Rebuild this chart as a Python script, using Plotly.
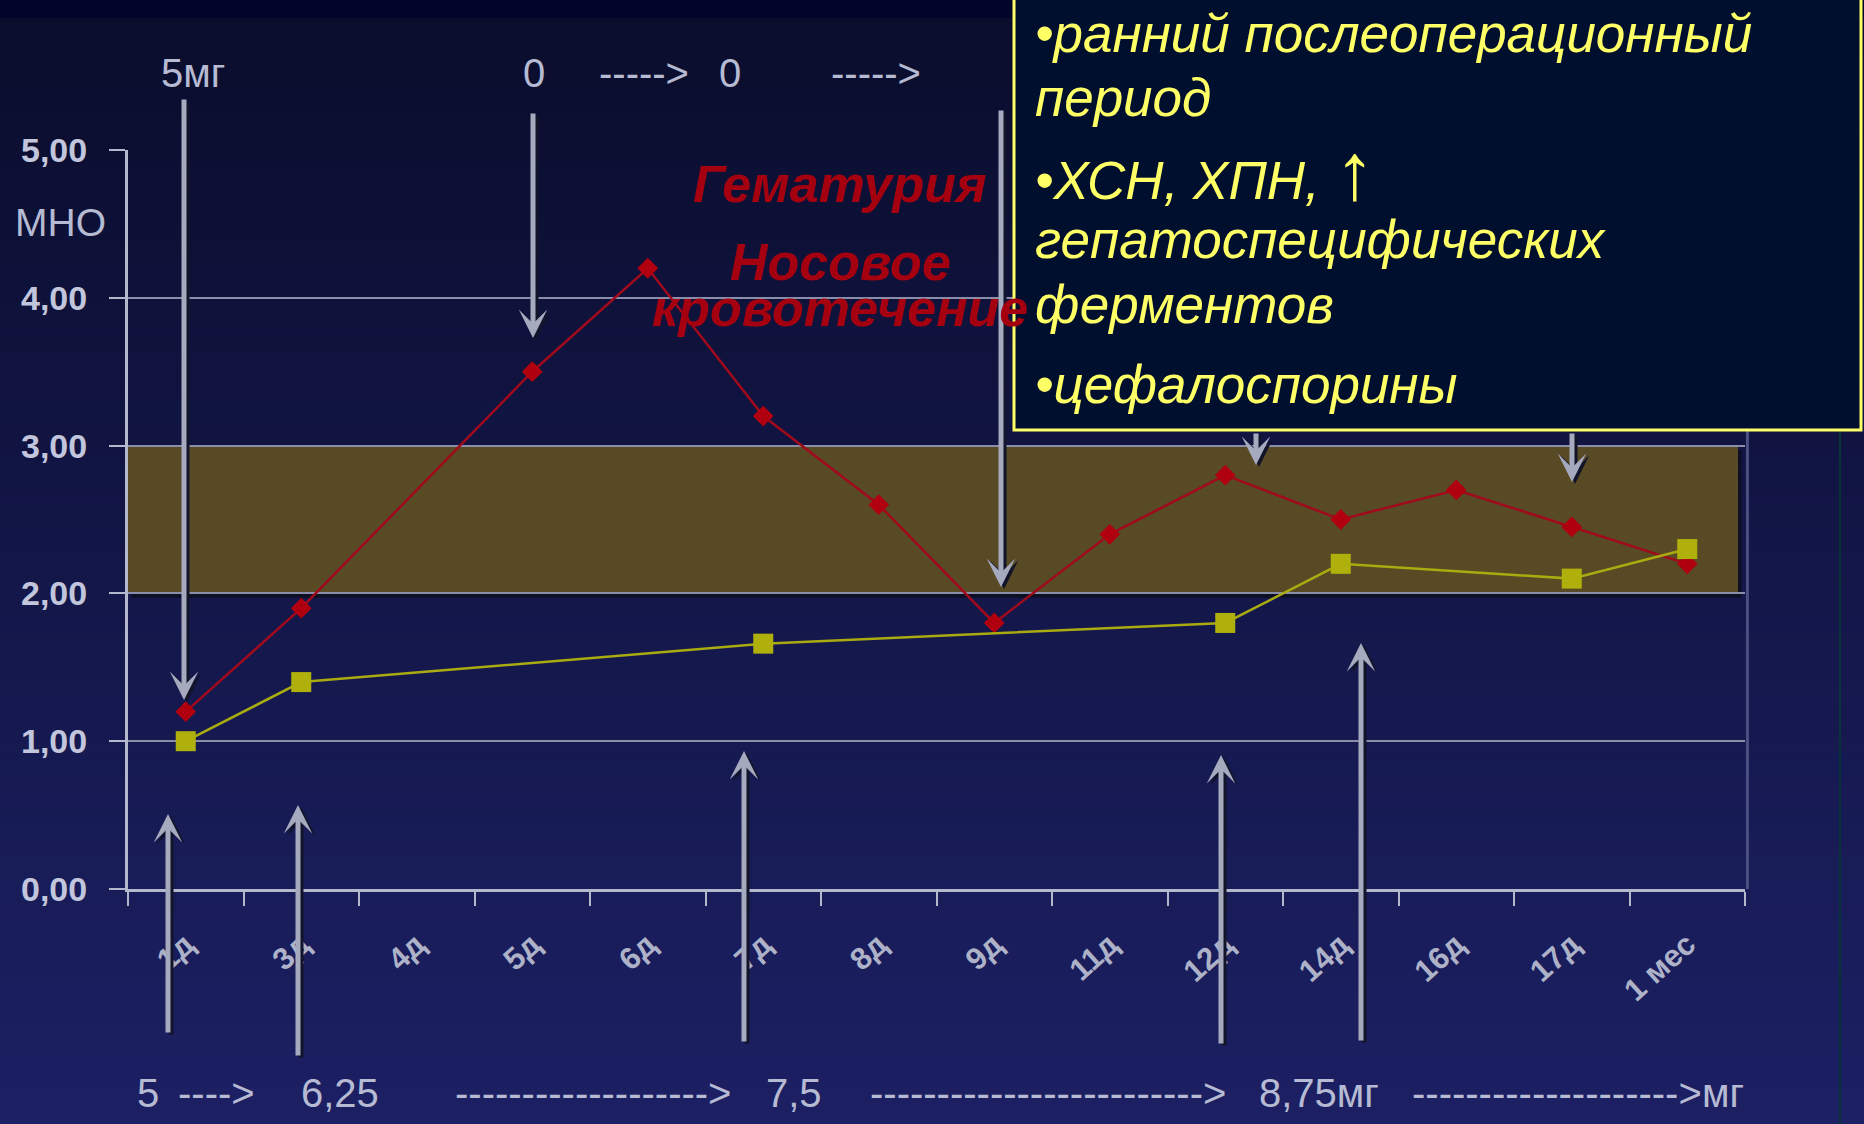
import plotly.graph_objects as go

# ---- data -------------------------------------------------------------
days = ["1д", "3д", "4д", "5д", "6д", "7д", "8д", "9д",
        "11д", "12д", "14д", "16д", "17д", "1 мес"]
inr_red = [1.2, 1.9, None, 3.5, 4.2, 3.2, 2.6, 1.8,
           2.4, 2.8, 2.5, 2.7, 2.45, 2.2]
inr_yellow = [1.0, 1.4, None, None, None, 1.66, None, None,
              None, 1.8, 2.2, None, 2.1, 2.3]
y_ticks = [0, 1, 2, 3, 4, 5]
y_tick_text = ["0,00", "1,00", "2,00", "3,00", "4,00", "5,00"]
target_low, target_high = 2.0, 3.0

top_doses = ["5мг", "0", "----->", "0", "----->"]
bottom_doses = ["5", "---->", "6,25", "------------------->", "7,5",
                "------------------------->", "8,75мг",
                "-------------------->", "мг"]
events = ["Гематурия", "Носовое", "кровотечение"]
risk_lines = ["•ранний послеоперационный", "период",
              "•ХСН, ХПН, <span style='font-size:80px'>↑</span>",
              "гепатоспецифических", "ферментов", "•цефалоспорины"]

# ---- page geometry (pixels) ------------------------------------------
W, H = 1864, 1124
L, R, T, B = 128, 1745, 150, 889
PW, PH = R - L, B - T


def fx(x):
    return (x - L) / PW


def fy(y):
    return (B - y) / PH


FONT = "Liberation Sans, Arial, sans-serif"
GREY_TXT = "#b6bad2"

fig = go.Figure()

fig.add_trace(go.Scatter(
    x=days, y=inr_red, mode="lines+markers", connectgaps=True,
    line=dict(color="#a00a1c", width=2.5),
    marker=dict(symbol="diamond", size=16, color="#b0000f"),
    showlegend=False, hoverinfo="skip"))
fig.add_trace(go.Scatter(
    x=days, y=inr_yellow, mode="lines+markers", connectgaps=True,
    line=dict(color="#a9ab10", width=2.5),
    marker=dict(symbol="square", size=20, color="#b0b00c"),
    showlegend=False, hoverinfo="skip"))

shapes = []

# background: dark strip at the top, then a vertical navy gradient
shapes.append(dict(type="rect", xref="paper", yref="paper", layer="below",
                   x0=fx(0), x1=fx(W), y0=fy(18), y1=fy(0),
                   fillcolor="#01052a", line=dict(width=0)))
c0, c1 = (10, 13, 44), (28, 32, 100)
n = 90
y_start = 18
step = (H - y_start) / n
for i in range(n):
    t = i / (n - 1)
    col = "rgb({},{},{})".format(*[round(a + (b - a) * t) for a, b in zip(c0, c1)])
    ya = y_start + i * step
    shapes.append(dict(type="rect", xref="paper", yref="paper", layer="below",
                       x0=fx(0), x1=fx(W), y0=fy(ya + step + 1), y1=fy(ya),
                       fillcolor=col, line=dict(width=0)))

# target range band with its drop shadow
x_band_end = (1738 - L) / (PW / len(days)) - 0.5
shapes.append(dict(type="rect", xref="x", yref="y", layer="below",
                   x0=-0.5 + 0.03, x1=x_band_end + 0.03,
                   y0=target_low - 0.03, y1=target_high - 0.03,
                   fillcolor="#0d0f24", line=dict(width=0)))
shapes.append(dict(type="rect", xref="x", yref="y", layer="below",
                   x0=-0.5, x1=x_band_end, y0=target_low, y1=target_high,
                   fillcolor="#584a24", line=dict(width=0)))

# right frame of the plot area and the thin line at the page edge
shapes.append(dict(type="line", xref="paper", yref="paper", layer="below",
                   x0=1.0015, x1=1.0015, y0=0, y1=1,
                   line=dict(color="#4a5082", width=3)))
shapes.append(dict(type="line", xref="paper", yref="paper", layer="above",
                   x0=fx(1840), x1=fx(1840), y0=fy(H), y1=fy(430),
                   line=dict(color="#0a3038", width=2)))

# information box
shapes.append(dict(type="rect", xref="paper", yref="paper", layer="above",
                   x0=fx(1014), x1=fx(1861), y0=fy(430), y1=fy(-5),
                   fillcolor="#000f2e", line=dict(color="#ffff66", width=3)))

annotations = []


def text(s, x, y, size, color=GREY_TXT, xanchor="center", **font_kw):
    annotations.append(dict(text=s, xref="paper", yref="paper",
                            x=fx(x), y=fy(y), xanchor=xanchor, yanchor="middle",
                            showarrow=False,
                            font=dict(family=FONT, size=size, color=color, **font_kw)))


def arrow(x, y_tip, y_tail):
    for dx, dy, col in ((3, 2, "#12142a"), (0, 0, "#a6aabe")):
        annotations.append(dict(text="", xref="paper", yref="paper",
                                x=fx(x + dx), y=fy(y_tip + dy),
                                ax=0, ay=y_tail - y_tip, axref="pixel", ayref="pixel",
                                showarrow=True, arrowhead=3, arrowsize=0.95,
                                arrowwidth=5, arrowcolor=col, standoff=0))


# dose arrows
for x, tip, tail in [(184, 700, 98), (533, 338, 112), (1001, 587, 109),
                     (1256, 465, 432), (1572, 482, 432)]:
    arrow(x, tip, tail)
for x, tip, tail in [(168, 814, 1034), (298, 805, 1057), (744, 751, 1043),
                     (1221, 755, 1045), (1361, 643, 1042)]:
    arrow(x, tip, tail)

# dose texts along the top and the bottom
for s, x in zip(top_doses, [193, 534, 644, 730, 876]):
    text(s, x, 73, 40)
for s, x in zip(bottom_doses, [148, 216, 340, 593, 794, 1048, 1319, 1557, 1723]):
    text(s, x, 1093, 40)

# axis caption
text("МНО", 60, 223, 39)

# bleeding events
for s, y in zip(events, [184, 262, 308]):
    text("<b><i>" + s + "</i></b>", 840, y, 52, color="#a50010")

# risk factors (the third line carries a taller arrow glyph)
for s, base, dy in zip(risk_lines, [52, 115, 195, 258, 322, 402],
                       [18, 18, 24, 18, 18, 18]):
    text("<i>" + s + "</i>", 1033, base - dy, 53, color="#ffff66", xanchor="left")

fig.update_layout(
    width=W, height=H, autosize=False,
    margin=dict(l=L, r=W - R, t=T, b=H - B, pad=0),
    paper_bgcolor="#0a0d2c", plot_bgcolor="rgba(0,0,0,0)",
    shapes=shapes, annotations=annotations, showlegend=False,
    xaxis=dict(type="category", categoryorder="array", categoryarray=days,
               range=[-0.5, len(days) - 0.5], tickson="boundaries",
               ticks="outside", ticklen=14, tickwidth=2, tickcolor="#b4b8cc",
               showline=True, linecolor="#b4b8cc", linewidth=3,
               showgrid=False, zeroline=False, tickangle=-42,
               ticklabelstandoff=22,
               tickfont=dict(family=FONT, size=31, color="#aeb2c8",
                             weight="bold")),
    yaxis=dict(range=[0, 5], tickvals=y_ticks, ticktext=y_tick_text,
               ticks="outside", ticklen=16, tickwidth=2, tickcolor="#b4b8cc",
               showline=True, linecolor="#b4b8cc", linewidth=3,
               showgrid=True, gridcolor="#8a8eaa", gridwidth=2,
               zeroline=False, ticklabelstandoff=15,
               tickfont=dict(family=FONT, size=34, color="#c2c6dc",
                             weight="bold")),
)

fig.write_html("out.html")
